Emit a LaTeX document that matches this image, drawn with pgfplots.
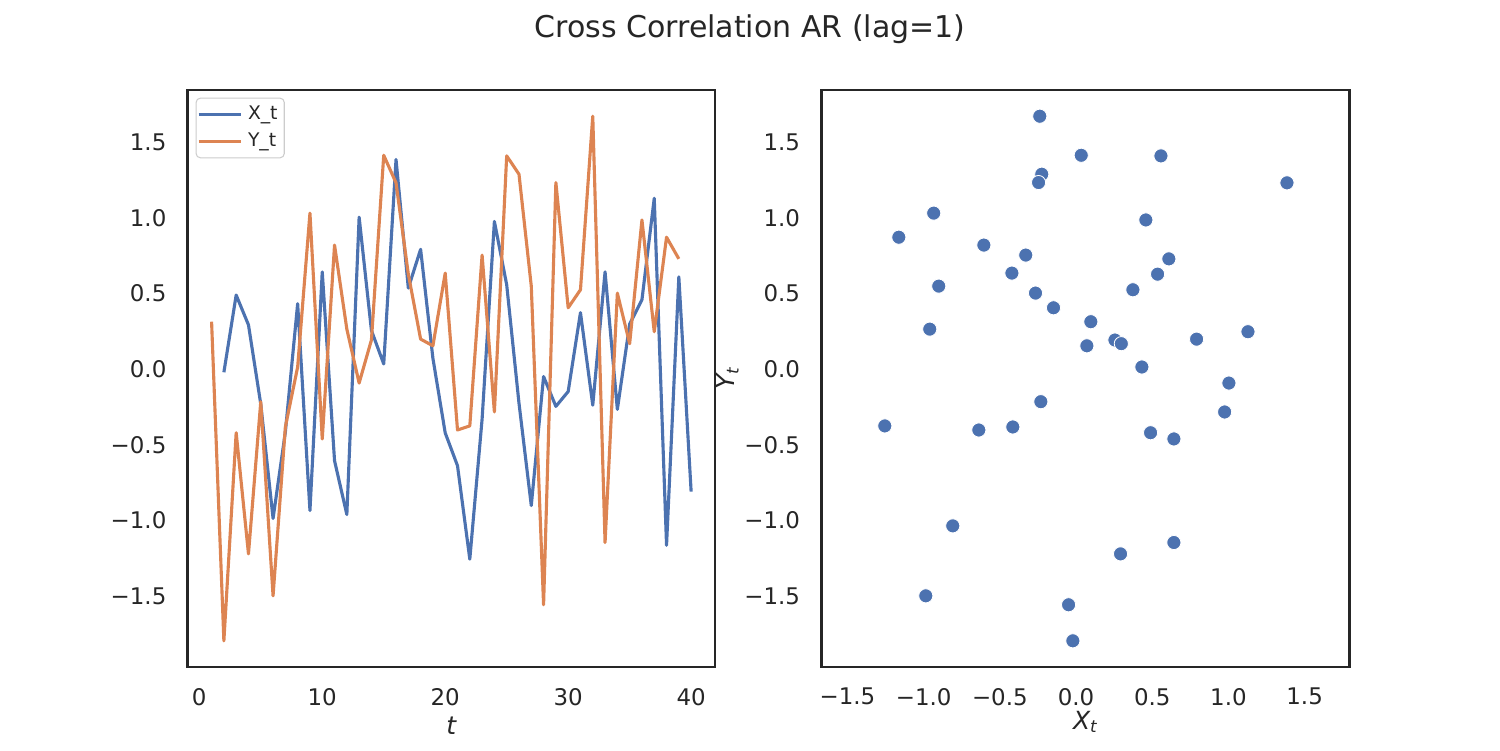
\documentclass[border=0pt]{standalone}
\usepackage{pgfplots}
\pgfplotsset{compat=1.18}
\usepackage{pgfplotstable}
\usepackage{fontspec}
\setmainfont{DejaVu Sans}
\definecolor{sbblue}{RGB}{76,114,176}
\definecolor{sborange}{RGB}{221,132,82}
\definecolor{txt}{RGB}{38,38,38}
\definecolor{legedge}{RGB}{204,204,204}

\pgfplotstableread{
t X Y
1 0.097 0.313
2 -0.021 -1.794
3 0.489 -0.420
4 0.292 -1.220
5 -0.231 -0.215
6 -0.986 -1.497
7 -0.415 -0.382
8 0.432 0.014
9 -0.934 1.030
10 0.642 -0.461
11 -0.605 0.819
12 -0.960 0.264
13 1.003 -0.092
14 0.255 0.192
15 0.034 1.412
16 1.384 1.230
17 0.535 0.627
18 0.791 0.198
19 0.071 0.154
20 -0.421 0.634
21 -0.638 -0.402
22 -1.255 -0.375
23 -0.330 0.753
24 0.975 -0.283
25 0.557 1.408
26 -0.225 1.287
27 -0.901 0.548
28 -0.049 -1.556
29 -0.246 1.232
30 -0.148 0.405
31 0.373 0.524
32 -0.238 1.670
33 0.642 -1.145
34 -0.266 0.502
35 0.297 0.168
36 0.458 0.985
37 1.128 0.247
38 -1.163 0.871
39 0.609 0.728
40 -0.809 -1.035
}\data

\pgfplotsset{
  myax/.style={
    scale only axis, width=253.2pt, height=276.96pt,
    anchor=south west,
    axis line style={draw=txt, line width=1.25pt},
    major tick length=0pt,
    tick label style={font=\fontsize{11}{13}\selectfont, text=txt, inner sep=0pt},
    xticklabel style={anchor=north, yshift=-10pt},
    yticklabel style={anchor=east, xshift=-10pt},
    ymin=-1.967, ymax=1.843,
    ytick={-1.5,-1,-0.5,0,0.5,1,1.5},
    yticklabels={−1.5,−1.0,−0.5,0.0,0.5,1.0,1.5},
    label style={font=\fontsize{12}{14}\selectfont, text=txt},
  }
}

\begin{document}
\begin{tikzpicture}
\useasboundingbox (0,0) rectangle (720pt,360pt);
\node[anchor=base, text=txt, font=\fontsize{14.4}{17}\selectfont] at (360pt,341.8pt) {Cross Correlation AR (lag=1)};

\begin{axis}[myax, at={(90.05pt,39.84pt)},
  xmin=-0.95, xmax=41.95,
  xtick={0,10,20,30,40}, xticklabels={0,10,20,30,40},
  xlabel={\itshape t},
  xlabel style={at={(axis description cs:0.5,0)}, anchor=base, yshift=-32.6pt},
  legend style={at={(0.0152,0.9867)}, anchor=north west,
    font=\fontsize{9}{10.5}\selectfont, text=txt,
    draw=legedge, line width=0.5pt, rounded corners=2pt, fill=white,
    inner xsep=0.6pt, inner ysep=2.1pt, row sep=1.6pt,
    nodes={inner xsep=2.6pt, inner ysep=1.5pt, text height=6.4pt, text depth=2pt}},
  legend image code/.code={\draw[#1] (0pt,0pt) -- (16.6pt,0pt); \path (0pt,0pt) -- (20.2pt,0pt);},
  legend cell align=left,
]
\addplot[sbblue, line width=1.5pt, line join=round, skip coords between index={0}{1}] table[x=t, y=X]{\data};
\addlegendentry{X\_t}
\addplot[sborange, line width=1.5pt, line join=round, skip coords between index={39}{40}] table[x=t, y=Y]{\data};
\addlegendentry{Y\_t}
\end{axis}

\begin{axis}[myax, at={(394.2pt,39.84pt)}, width=253.6pt,
  xmin=-1.672, xmax=1.795,
  xtick={-1.5,-1,-0.5,0,0.5,1,1.5},
  xticklabels={−1.5,−1.0,−0.5,0.0,0.5,1.0,1.5},
  xlabel={{\itshape X}\textsubscript{\itshape t}},
  xlabel style={at={(axis description cs:0.5,0)}, anchor=base, yshift=-29.8pt},
  ylabel={{\itshape Y}\textsubscript{\itshape t}},
  ylabel style={at={(axis description cs:-0.1772,0.5)}, anchor=center},
]
\addplot[only marks, mark=*, mark size=3.4pt, mark options={fill=sbblue, draw=white, line width=0.4pt}] table[x=X, y=Y]{\data};
\end{axis}
\end{tikzpicture}
\end{document}
